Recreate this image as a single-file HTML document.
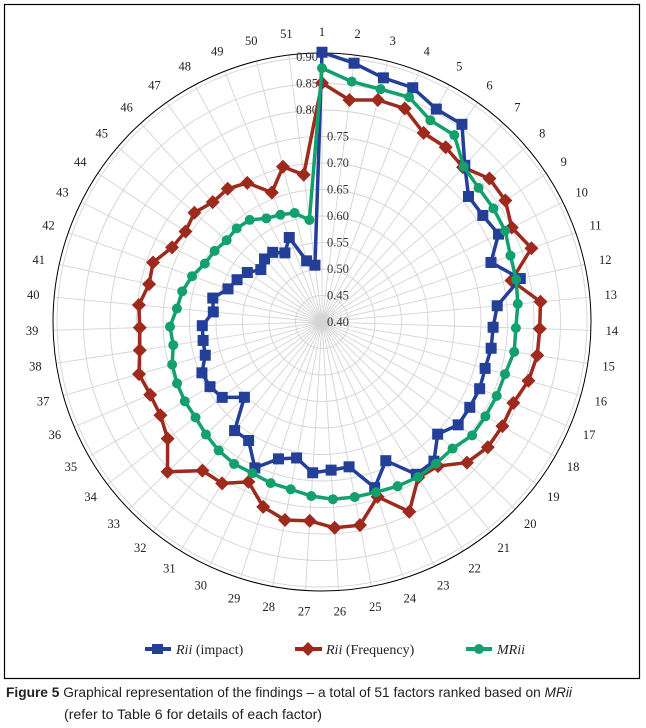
<!DOCTYPE html>
<html><head><meta charset="utf-8"><style>
html,body{margin:0;padding:0;background:#fff;}
svg{display:block;}
</style></head><body>
<svg id="chart" width="646" height="728" viewBox="0 0 646 728" xmlns="http://www.w3.org/2000/svg">
<rect x="4.5" y="4.5" width="635" height="674" fill="#fff" stroke="#000" stroke-width="1.2"/>
<g id="grid"></g>
<g id="ticks" font-family="Liberation Serif, serif" font-size="12.5" fill="#333"></g>
<g id="cats" font-family="Liberation Serif, serif" font-size="12.5" fill="#222"></g>
<g id="series"></g>
<g font-family="Liberation Serif, serif" font-size="14" fill="#222">
 <g>
  <line x1="145" y1="649" x2="171" y2="649" stroke="#233f98" stroke-width="4"/><rect x="152" y="644" width="11" height="10" fill="#233f98"/>
  <text x="176" y="654"><tspan font-style="italic">Rii</tspan> (impact)</text></g>
 <g>
  <line x1="295" y1="649" x2="322" y2="649" stroke="#9e2a1e" stroke-width="4"/><polygon points="308,642 315,649 308,656 301,649" fill="#9e2a1e"/>
  <text x="326" y="654"><tspan font-style="italic">Rii</tspan> (Frequency)</text></g>
 <g>
  <line x1="466" y1="649" x2="492" y2="649" stroke="#12a06c" stroke-width="4"/><circle cx="479" cy="649" r="5" fill="#12a06c"/>
  <text x="497" y="654" font-style="italic">MRii</text></g>
</g>
<text x="6" y="697" textLength="566" lengthAdjust="spacingAndGlyphs" font-family="Liberation Sans Narrow, Liberation Sans, sans-serif" font-size="14" fill="#222"><tspan font-weight="bold">Figure 5</tspan> Graphical representation of the findings – a total of 51 factors ranked based on <tspan font-style="italic">MRii</tspan></text>
<text x="64" y="719" textLength="258" lengthAdjust="spacingAndGlyphs" font-family="Liberation Sans Narrow, Liberation Sans, sans-serif" font-size="14" fill="#222">(refer to Table 6 for details of each factor)</text>
</svg>
<script>
const categories = Array.from({length:51},(_,i)=>String(i+1));
const tickValues = [0.40,0.45,0.50,0.55,0.60,0.65,0.70,0.75,0.80,0.85,0.90];
const tickLabels = ["0.40","0.45","0.50","0.55","0.60","0.65","0.70","0.75","0.80","0.85","0.90"];
const rImpact = [0.909,0.892,0.875,0.874,0.856,0.857,0.800,0.764,0.764,0.772,0.738,0.783,0.732,0.723,0.723,0.720,0.723,0.722,0.722,0.704,0.737,0.738,0.688,0.728,0.678,0.680,0.685,0.661,0.671,0.703,0.663,0.663,0.604,0.636,0.644,0.646,0.629,0.627,0.626,0.606,0.611,0.588,0.579,0.569,0.552,0.561,0.561,0.548,0.571,0.519,0.508];
const rFrequency = [0.851,0.822,0.832,0.832,0.805,0.804,0.795,0.816,0.815,0.800,0.819,0.766,0.814,0.811,0.811,0.805,0.792,0.793,0.792,0.781,0.749,0.745,0.794,0.746,0.790,0.789,0.776,0.780,0.766,0.732,0.758,0.760,0.806,0.765,0.752,0.752,0.759,0.748,0.744,0.747,0.734,0.738,0.716,0.709,0.717,0.706,0.708,0.698,0.662,0.702,0.680];
const mrii = [0.879,0.857,0.853,0.855,0.832,0.832,0.797,0.789,0.788,0.786,0.777,0.775,0.771,0.766,0.767,0.759,0.758,0.756,0.755,0.743,0.743,0.744,0.741,0.737,0.736,0.735,0.729,0.721,0.719,0.714,0.715,0.711,0.705,0.699,0.699,0.697,0.694,0.684,0.687,0.675,0.670,0.660,0.647,0.643,0.637,0.639,0.636,0.622,0.617,0.612,0.594];

const NS="http://www.w3.org/2000/svg";
const cx=322, cy=322, vMin=0.40, k=530, outerR=269, labelR=290;
function rScale(v){return (v-vMin)*k;}
function ang(i){return i*2*Math.PI/categories.length;}
function pt(i,v){const r=rScale(v),a=ang(i);return [cx+r*Math.sin(a), cy-r*Math.cos(a)];}
function mk(tag,attrs,parent){const e=document.createElementNS(NS,tag);for(const a in attrs)e.setAttribute(a,attrs[a]);parent.appendChild(e);return e;}

const grid=document.getElementById('grid');
categories.forEach((c,i)=>{const a=ang(i);
 const l=mk('line',{x1:cx,y1:cy,x2:cx+outerR*Math.sin(a),y2:cy-outerR*Math.cos(a),stroke:'#d4d4d4','stroke-width':0.9},grid);
 
 
});
tickValues.forEach(v=>{if(v<=vMin)return;
 const c=mk('circle',{cx:cx,cy:cy,r:rScale(v),fill:'none',stroke:'#d4d4d4','stroke-width':0.9},grid);
 
 
});
const oc=mk('circle',{cx:cx,cy:cy,r:outerR,fill:'none',stroke:'#000','stroke-width':1},grid);



const ticks=document.getElementById('ticks');
tickValues.forEach((v,j)=>{const y=cy-rScale(v)+4;const hi=v>0.775;
 const t=mk('text',{x:hi?318:327,y:y,'text-anchor':hi?'end':'start'},ticks);
 t.textContent=tickLabels[j];
 
 
});
const cats=document.getElementById('cats');
categories.forEach((c,i)=>{const a=ang(i);
 const t=mk('text',{x:cx+labelR*Math.sin(a),y:cy-labelR*Math.cos(a)+4,'text-anchor':'middle'},cats);
 t.textContent=c;
 
 
});

const series=document.getElementById('series');
function drawSeries(vals,color,shape,name){
 const g=mk('g',{},series);
 
 
 const pts=vals.map((v,i)=>pt(i,v));
 const pl=mk('polygon',{points:pts.map(p=>p.join(',')).join(' '),fill:'none',stroke:color,'stroke-width':3.5,'stroke-linejoin':'round'},g);
 
 
 pts.forEach(([x,y])=>{let m;
  if(shape==='square')m=mk('rect',{x:x-5.5,y:y-5.5,width:11,height:11,fill:color},g);
  else if(shape==='diamond')m=mk('polygon',{points:`${x},${y-7} ${x+7},${y} ${x},${y+7} ${x-7},${y}`,fill:color},g);
  else m=mk('circle',{cx:x,cy:y,r:5,fill:color},g);
  
  
 });
}
drawSeries(rFrequency,'#9e2a1e','diamond','series-frequency');
drawSeries(rImpact,'#233f98','square','series-impact');
drawSeries(mrii,'#12a06c','circle','series-mrii');
</script>
</body></html>
